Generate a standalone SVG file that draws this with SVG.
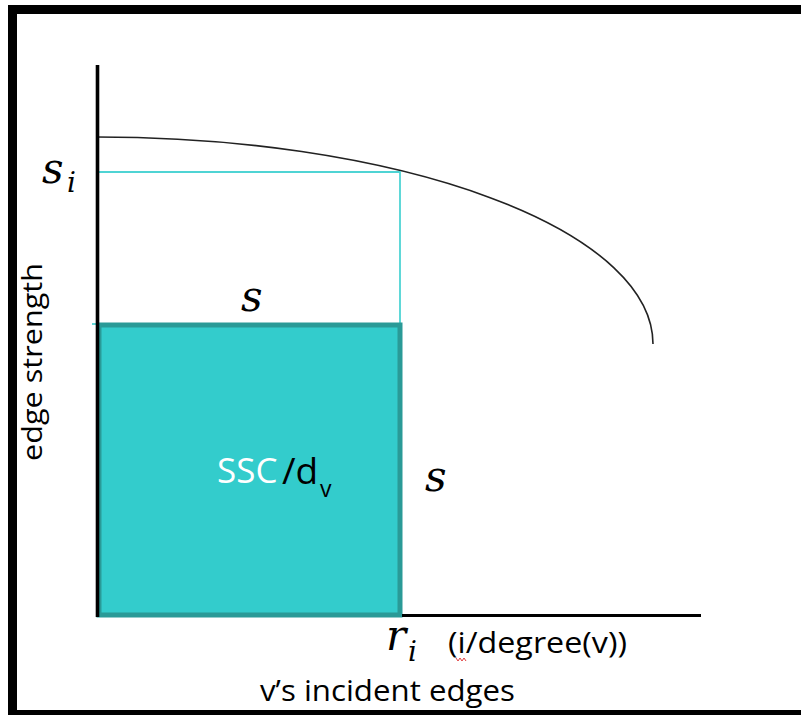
<svg xmlns="http://www.w3.org/2000/svg" width="801" height="715" viewBox="0 0 801 715">
<style>
.math{font-family:"DejaVu Serif","Liberation Serif",serif;font-style:italic;fill:#000}
.lbl{font-family:"Open Sans","Liberation Sans",sans-serif;fill:#000}
</style>
<rect x="0" y="0" width="801" height="715" fill="#fff"/>
<rect x="12.5" y="9.5" width="800" height="705" fill="none" stroke="#000" stroke-width="9"/>
<g id="connectors">
<path d="M97,137 A556,207 0 0 1 653,344" fill="none" stroke="#222" stroke-width="1.6"/>
<path d="M97,172 H400 V324" fill="none" stroke="#4fd4d4" stroke-width="1.8"/>
<line x1="92" y1="324" x2="98" y2="324" stroke="#4fd4d4" stroke-width="1.8"/>
</g>
<g id="area">
<rect x="99" y="325" width="301" height="290" fill="#33cccc" stroke="#2a9a97" stroke-width="5"/>
</g>
<g id="axes">
<line x1="97.5" y1="65" x2="97.5" y2="617" stroke="#000" stroke-width="3.6"/>
<line x1="402" y1="615.5" x2="701" y2="615.5" stroke="#000" stroke-width="3"/>
</g>
<g id="labels">
<text class="math" x="42" y="183" font-size="42">s</text>
<text class="math" x="67" y="192" font-size="28">i</text>
<text class="math" x="241" y="311" font-size="42">s</text>
<text class="math" x="425" y="491" font-size="42">s</text>
<text class="math" x="386" y="650" font-size="42">r</text>
<text class="math" x="408" y="661" font-size="28">i</text>
<text class="lbl" x="217" y="483" font-size="35" style="fill:#fff">SSC</text>
<text class="lbl" x="282" y="484" font-size="37">/d</text>
<text class="lbl" x="320" y="497" font-size="23">v</text>
<text class="lbl" x="448" y="653" font-size="30" textLength="179" lengthAdjust="spacingAndGlyphs">(i/degree(v))</text>
<path d="M456,658 l2,3 l2,-3 l2,3 l2,-3 l2,3" fill="none" stroke="#e04040" stroke-width="1"/>
<text class="lbl" x="260" y="701" font-size="29" textLength="255" lengthAdjust="spacingAndGlyphs">v’s incident edges</text>
<text class="lbl" transform="translate(42,461) rotate(-90)" font-size="28" textLength="198" lengthAdjust="spacingAndGlyphs">edge strength</text>
</g>
</svg>
